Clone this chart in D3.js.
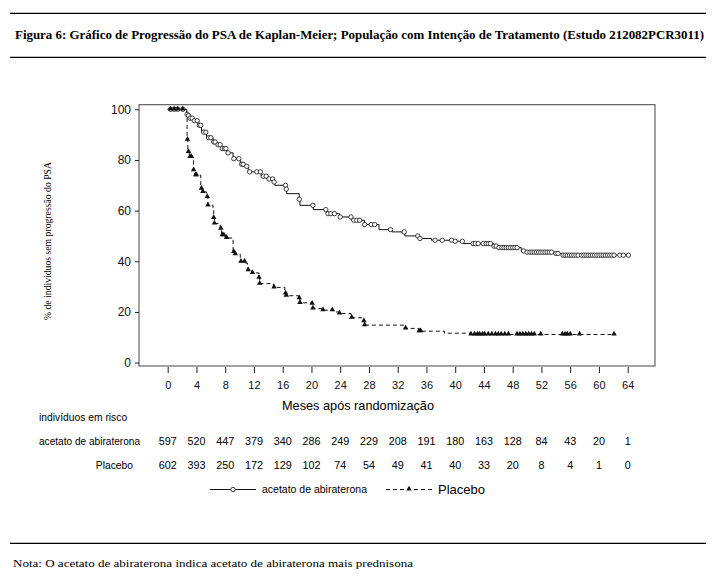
<!DOCTYPE html>
<html lang="pt">
<head>
<meta charset="UTF-8">
<title>Figura 6</title>
<script src="https://d3js.org/d3.v7.min.js"></script>
<style>
    body { margin: 0; background: #fff; }
    .sans { font-family: "Liberation Sans", Arial, sans-serif; }
    .serif { font-family: "Liberation Serif", "Times New Roman", serif; }
</style>
</head>
<body>
<svg id="chart" width="724" height="585"></svg>
<script>
// Kaplan-Meier steps (months, % without PSA progression)
const abiTimes = [0, 2.65, 2.8, 3.0, 3.6, 4.2, 4.7, 5.4, 6.3, 6.8, 7.5, 8.2, 9.1, 10.1, 10.6, 11.2, 13.0, 13.8, 14.7, 14.9, 16.45, 16.55, 18.3, 18.4, 20.25, 22.1, 23.9, 25.6, 27.4, 29.4, 31.2, 33.0, 34.9, 36.7, 39.7, 41.1, 45.3, 46.0, 49.2, 49.9, 53.6, 54.8];
const abiSurv  = [100, 98, 97.5, 96.5, 95.5, 93.7, 91, 88.8, 87.1, 86, 84.5, 82.8, 80.5, 78.3, 77.5, 75.3, 73.6, 72.5, 71.3, 70, 68.5, 66.7, 64.5, 62.1, 60.4, 58.8, 57.5, 56.2, 54.5, 52.5, 51.6, 50, 49, 48.3, 47.9, 47, 46, 45.4, 44.1, 43.6, 43.1, 42.4];
const abiCensor = [0.4, 0.9, 1.4, 2.1, 2.7, 2.9, 3.1, 3.4, 3.7, 4.1, 4.4, 4.6, 5.0, 5.3, 5.7, 6.0, 6.4, 6.6, 7.0, 7.3, 7.6, 7.9, 8.1, 8.4, 9.2, 9.9, 10.3, 10.5, 11.0, 11.4, 12.4, 12.9, 13.3, 13.7, 14.1, 14.6, 14.8, 16.4, 16.5, 18.3, 20.2, 22.0, 22.3, 22.7, 23.2, 24.0, 25.5, 25.9, 26.3, 26.7, 27.4, 28.3, 28.8, 31.0, 32.9, 34.8, 35.1, 37.2, 38.2, 39.5, 40.0, 41.0, 42.5, 42.8, 43.2, 43.9, 44.3, 44.6, 44.9, 45.4, 45.7, 46.1, 46.5, 46.8, 47.1, 47.4, 47.7, 48.0, 48.3, 48.6, 49.5, 50.0, 50.4, 50.7, 51.0, 51.3, 51.6, 51.9, 52.2, 52.5, 52.8, 53.1, 53.4, 54.0, 54.3, 55.0, 55.3, 55.6, 55.9, 56.2, 56.5, 56.8, 57.1, 57.6, 57.9, 58.2, 58.5, 58.8, 59.1, 59.4, 59.7, 60.0, 60.3, 60.6, 60.9, 61.2, 61.5, 61.8, 62.1, 62.9, 63.4, 64.1];

const placTimes = [0, 2.65, 2.7, 2.8, 3.0, 3.5, 3.6, 3.8, 4.6, 4.8, 5.4, 5.6, 6.3, 6.4, 6.5, 7.3, 7.5, 8.0, 9.1, 9.3, 10.1, 10.8, 11.1, 11.7, 12.7, 12.8, 14.7, 16.3, 16.5, 18.2, 18.4, 20.0, 20.2, 21.5, 23.1, 23.9, 25.5, 27.2, 27.4, 33.0, 34.9, 38.5, 42.1];
const placSurv  = [100, 97, 88, 83.2, 81.2, 80, 76, 74, 68.7, 67.4, 65.4, 62.1, 60.2, 57.1, 54.9, 52.9, 50.3, 49.2, 43.7, 42.8, 39.8, 39.3, 36.5, 35.4, 33.5, 31.2, 29.7, 27.3, 26.4, 25.4, 23.6, 23.3, 21.4, 20.7, 20, 19.4, 17.7, 16.4, 14.8, 13.5, 12.4, 11.6, 11.1];
const placCensor = [0.4, 0.9, 1.4, 2.1, 2.75, 2.9, 3.1, 3.3, 3.6, 3.9, 4.0, 4.7, 4.9, 5.5, 5.6, 6.4, 6.5, 7.4, 7.6, 7.8, 8.2, 9.2, 9.4, 10.2, 10.7, 11.2, 11.8, 12.7, 12.8, 14.8, 16.4, 16.5, 18.3, 18.4, 20.1, 20.2, 21.6, 22.9, 23.9, 25.6, 27.3, 27.4, 33.1, 35.0, 35.2, 42.2, 42.7, 43.1, 43.4, 43.8, 44.1, 44.6, 45.1, 45.6, 46.0, 46.4, 46.9, 47.4, 48.6, 49.0, 49.4, 49.8, 50.2, 50.6, 51.0, 51.9, 54.9, 55.3, 55.6, 56.0, 57.3, 62.1];

const xTicks = [0, 4, 8, 12, 16, 20, 24, 28, 32, 36, 40, 44, 48, 52, 56, 60, 64];
const yTicks = [0, 20, 40, 60, 80, 100];
const riskAbi  = [597, 520, 447, 379, 340, 286, 249, 229, 208, 191, 180, 163, 128, 84, 43, 20, 1];
const riskPlac = [602, 393, 250, 172, 129, 102, 74, 54, 49, 41, 40, 33, 20, 8, 4, 1, 0];

const svg = d3.select("#chart");

// header / footer rules
[13.3, 57.3, 543.3].forEach(y => {
    svg.append("line").attr("x1", 10).attr("x2", 706).attr("y1", y).attr("y2", y)
        .attr("stroke", "#000").attr("stroke-width", 1.3);
});

svg.append("text").attr("class", "serif")
    .attr("x", 15).attr("y", 39)
    .attr("font-size", 12).attr("font-weight", "bold")
    .attr("textLength", 689).attr("lengthAdjust", "spacingAndGlyphs")
    .text("Figura 6: Gráfico de Progressão do PSA de Kaplan-Meier; População com Intenção de Tratamento (Estudo 212082PCR3011)");

svg.append("text").attr("class", "serif")
    .attr("x", 13).attr("y", 567)
    .attr("font-size", 10.5)
    .attr("textLength", 400).attr("lengthAdjust", "spacingAndGlyphs")
    .text("Nota: O acetato de abiraterona indica acetato de abiraterona mais prednisona");

// scales
const x = d3.scaleLinear().domain([0, 64]).range([167.7, 627.7]);
const y = d3.scaleLinear().domain([0, 100]).range([362.6, 109.3]);

// frame
const frameL = 139, frameR = 655, frameT = 104.7, frameB = 366;
svg.append("rect")
    .attr("x", frameL).attr("y", frameT)
    .attr("width", frameR - frameL).attr("height", frameB - frameT)
    .attr("fill", "none").attr("stroke", "#444").attr("stroke-width", 1);

// x axis
const xAxis = svg.append("g").attr("class", "sans")
    .attr("transform", `translate(0,${frameB})`)
    .call(d3.axisBottom(x).tickValues(xTicks).tickSize(6).tickPadding(9));
xAxis.select(".domain").remove();
xAxis.selectAll("line").attr("stroke", "#222").attr("transform", "translate(0,1)");
xAxis.selectAll("text").attr("font-size", 11).attr("fill", "#111")
    .attr("font-family", "Liberation Sans, Arial, sans-serif");

// y axis
const yAxis = svg.append("g").attr("class", "sans")
    .attr("transform", `translate(${frameL},0)`)
    .call(d3.axisLeft(y).tickValues(yTicks).tickSize(4).tickPadding(4));
yAxis.select(".domain").remove();
yAxis.selectAll("line").attr("stroke", "#222");
yAxis.selectAll("text").attr("font-size", 12).attr("fill", "#111")
    .attr("font-family", "Liberation Sans, Arial, sans-serif");

svg.append("text").attr("class", "serif")
    .attr("transform", "translate(51,241) rotate(-90)")
    .attr("text-anchor", "middle")
    .attr("font-size", 10)
    .attr("textLength", 158).attr("lengthAdjust", "spacingAndGlyphs")
    .text("% de indivíduos sem progressão do PSA");

svg.append("text").attr("class", "sans")
    .attr("x", 282).attr("y", 410)
    .attr("font-size", 13)
    .attr("textLength", 152).attr("lengthAdjust", "spacingAndGlyphs")
    .text("Meses após randomização");

// curves
function steps(times, surv, end) {
    const pts = times.map((t, i) => [t, surv[i]]);
    pts.push([end, surv[surv.length - 1]]);
    return pts;
}
function valueAt(times, surv, t) {
    let v = surv[0];
    times.forEach((tt, i) => { if (tt <= t) v = surv[i]; });
    return v;
}
const line = d3.line().x(d => x(d[0])).y(d => y(d[1])).curve(d3.curveStepAfter);

svg.append("path")
    .datum(steps(abiTimes, abiSurv, d3.max(abiCensor)))
    .attr("d", line).attr("fill", "none").attr("stroke", "#111").attr("stroke-width", 1);

svg.append("path")
    .datum(steps(placTimes, placSurv, d3.max(placCensor)))
    .attr("d", line).attr("fill", "none").attr("stroke", "#111").attr("stroke-width", 1)
    .attr("stroke-dasharray", "4,3");

svg.append("g").selectAll("circle")
    .data(abiCensor)
    .join("circle")
    .attr("cx", d => x(d))
    .attr("cy", d => y(valueAt(abiTimes, abiSurv, d)))
    .attr("r", 2.2)
    .attr("fill", "#fff").attr("stroke", "#111").attr("stroke-width", 0.8);

const tri = d3.symbol(d3.symbolTriangle).size(13);
svg.append("g").selectAll("path")
    .data(placCensor)
    .join("path")
    .attr("d", tri)
    .attr("transform", d => `translate(${x(d)},${y(valueAt(placTimes, placSurv, d)) - 0.5})`)
    .attr("fill", "#111");

// numbers at risk
svg.append("text").attr("class", "sans")
    .attr("x", 39).attr("y", 421).attr("font-size", 10.3)
    .text("indivíduos em risco");
svg.append("text").attr("class", "sans")
    .attr("x", 39).attr("y", 445).attr("font-size", 10.2)
    .attr("textLength", 101).attr("lengthAdjust", "spacingAndGlyphs")
    .text("acetato de abiraterona");
svg.append("text").attr("class", "sans")
    .attr("x", 133).attr("y", 469).attr("font-size", 10.3)
    .attr("text-anchor", "end")
    .text("Placebo");

svg.append("g").selectAll("text")
    .data(riskAbi)
    .join("text")
    .attr("class", "sans")
    .attr("x", (d, i) => x(xTicks[i])).attr("y", 445)
    .attr("text-anchor", "middle").attr("font-size", 10.8)
    .text(d => d);

svg.append("g").selectAll("text")
    .data(riskPlac)
    .join("text")
    .attr("class", "sans")
    .attr("x", (d, i) => x(xTicks[i])).attr("y", 469)
    .attr("text-anchor", "middle").attr("font-size", 10.8)
    .text(d => d);

// legend
const legY = 489.5;
svg.append("line").attr("x1", 210).attr("x2", 256).attr("y1", legY).attr("y2", legY)
    .attr("stroke", "#111").attr("stroke-width", 1);
svg.append("circle").attr("cx", 233).attr("cy", legY).attr("r", 2.2)
    .attr("fill", "#fff").attr("stroke", "#111").attr("stroke-width", 0.8);
svg.append("text").attr("class", "sans")
    .attr("x", 262).attr("y", 493).attr("font-size", 10.6)
    .attr("textLength", 105).attr("lengthAdjust", "spacingAndGlyphs")
    .text("acetato de abiraterona");

svg.append("line").attr("x1", 386).attr("x2", 433).attr("y1", legY).attr("y2", legY)
    .attr("stroke", "#111").attr("stroke-width", 1).attr("stroke-dasharray", "4,3");
svg.append("path").attr("d", tri)
    .attr("transform", `translate(409,${legY - 0.5})`).attr("fill", "#111");
svg.append("text").attr("class", "sans")
    .attr("x", 438).attr("y", 494).attr("font-size", 13)
    .text("Placebo");
</script>
</body>
</html>
